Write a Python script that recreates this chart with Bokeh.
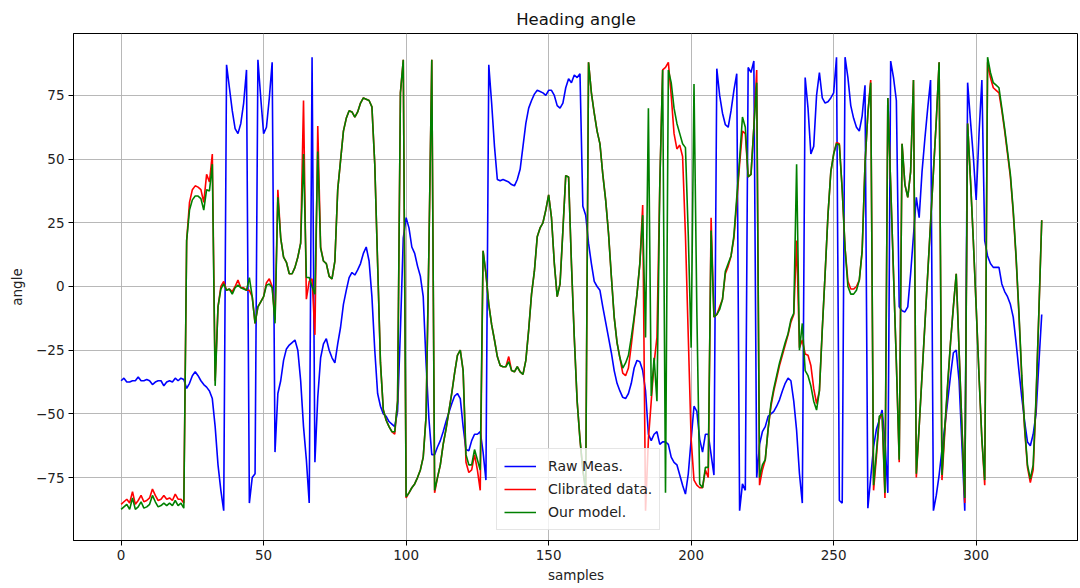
from bokeh.plotting import figure
from bokeh.models import Range1d, FixedTicker, Legend, LegendItem
from bokeh.embed import file_html
from bokeh.resources import INLINE

raw_meas = [
    -37, -36, -37.5, -37.5, -37, -37, -35.5, -37, -37, -36.5,
    -37, -38.5, -37.5, -37, -37, -39, -37.5, -37, -37.5, -36,
    -37, -36, -36.5, -40, -38, -35, -33.5, -35, -37, -38.5,
    -39.5, -41, -44, -55, -70, -80, -88, 87, 78, 69,
    62, 60, 64, 72, 85, -85, -75, -73.5, 89,
    74, 60, 62.5, 74, 88, -65, -42, -37, -29, -24.5,
    -23, -22, -21, -25, -37, -55, -68, -85, 90, -69,
    -43.5, -28, -22.5, -20.5, -25, -28, -30, -22.5, -16, -7,
    -1.5, 3.5, 5.5, 4.5, 6.5, 9, 13, 15.5, 10, -4,
    -25, -42, -47, -50, -51, -53, -54, -55, -49, -17,
    19, 27, 23, 15.5, 13, 8, 4, -4, -30, -52,
    -66, -66, -63, -60.5, -57, -53, -49.5, -46, -43, -42,
    -44, -55, -64, -64.5, -60.5, -58, -58, -57, -65, -76,
    87, 72, 55, 42, 41.5, 42, 41.5, 41, 40, 39.5,
    42, 46, 55, 64, 70, 73, 75.5, 77, 76.5, 76,
    75, 77, 77, 75, 71, 70, 72, 78, 81.5, 80,
    83, 82, 83.5, 31.5, 28, 17, 9, 2, 0, -1.5,
    -8, -14, -20, -26, -33, -38, -41, -43.5, -44, -42,
    -38, -32, -29, -29.5, -33, -41, -58, -60.5, -58, -57,
    -62, -61, -61, -62, -67, -69, -70, -74, -78, -81.5,
    -73.5, -60, -47, -49, -60, -65, -58, -58, -66, -74,
    85.5, 75, 68, 63.5, 62.5, 69, 77, 83.5, -88,
    -77.5, -80, 86, 84, 88.5, -75, -62, -57, -55, -51,
    -50, -49, -47, -44.5, -41, -38, -36, -37, -45, -56.5,
    -73.5, -85, 82, 70, 52, 55, 75, 84, 74, 72,
    72.5, 74, 76, 90, -84, -85, 90, 82, 71, 66,
    62.5, 61, 67, 79, -87, -75, -63, -56, -52.5, -48.5,
    -60.5, -81, 88.5, 82, 73, -8, -9.5, -10, -8, 5,
    20, 35, 27, 45, 58, 70, 81, -88, -82, -74,
    -64, -55, -45, -35, -26, -25, -37, -62, -88, 80,
    65, 51, 34, 60, 81, 18, 12, 9, 7.5, 7.5,
    7.5, 1, -2, -4, -7, -12, -22, -33, -43.5, -53,
    -61, -62.5, -58, -50, -30, -11,
]

calibrated = [
    -85.5, -84.5, -83.5, -85, -80.5, -85.5, -84, -82, -84.5, -84,
    -83, -79.5, -82, -84, -83.5, -82, -83.5, -83, -84, -81.5,
    -83.5, -83.5, -85, 18, 33, 38, 39.5, 39, 38, 33,
    44, 41, 52, -37, -8, 0, 2, -1.5, -1, -2,
    0, 2.5, -0.5, -0.5, -1.5, -1.5, -4, -14.5, -8,
    -6, -4, 1.5, 3, 0, -13, 38, 19, 11.5, 9.5,
    5, 5, 7.5, 11.5, 17, 73, -5, 2, 3, -19,
    63, 15.5, 10, 9, 4, 3, 10, 38, 49.5, 61,
    66, 69, 68.5, 66.5, 68.5, 72, 74, 73.5, 73, 70.5,
    48, 9, -30, -48.5, -52.5, -55, -57, -58, -45, 76,
    89, -83, -81, -79, -77.5, -75, -72, -67, -51, 15,
    89, -81, -75, -70, -62, -56, -49, -42, -34, -27,
    -25, -33, -69, -73, -72, -66, -72, -80, 14, 5,
    -7, -15, -21, -27.5, -31, -31.5, -31.5, -27.5, -33, -33.5,
    -31.5, -33.5, -34.5, -29, -17, -3, 6, 19.5, 23, 25,
    30, 36, 27, 9, -4, 1, 22, 43.5, 43, 9,
    -20, -45, -60, -72, -80, 88, 76, 68, 61, 56,
    44, 34, 21, 4, -12, -22, -28, -34, -35, -32,
    -23, -13, -3, 9, 32, -88, -60, -45, -30, -20,
    40, 85, 86, 88, 75, 60, 54, 55.5, 51, 20,
    -20, -60, -76, -78, -79, -79, -72, -75, 27, -12,
    -11, -8, -5, 5, 8, 12, 19, 33, 48,
    61, 60, 43, 44, 62.5, 85, -78, -72, -68, -56,
    -47, -41, -36, -31, -27, -23, -19, -14, -11, 18,
    -24, -21, -26.5, -27, -31, -40, -46, -41, -17, 5,
    28, 45, 52, 56.5, 56, 38, 15, 2, -1, -1,
    0, 2.5, 14, 48, 68, 81, -80, -67, -52, -50,
    -83, 74, 40, 5, -30, -69, 56, 40, 35, 45,
    81, -75, -55, -35, -15, 5, 25, 45, 65, 88,
    -76, -57, -39, -22, -8, 5, -25, -55, -85, 64,
    42, 18, -8, -35, -60, -78, 88, 82, 78, 77,
    76, 69, 61, 52, 43, 29, 11, -11, -36, -56,
    -71, -77, -72, -45, -10, 26,
]

our_model = [
    -87.5, -86.5, -85.5, -87.5, -83, -87.5, -86.5, -84.5, -87, -86.5,
    -85.5, -82, -84.5, -86.5, -86, -85, -86, -85, -86, -84,
    -86, -85, -87, 18, 30, 34, 35.5, 35.5, 34.5, 30,
    38, 37.5, 48, -39, -8, -1, 1, -1.5, -1, -3,
    -0.5, 0.5, -0.5, -1, -1.5, 3.5, -4, -14.5, -8,
    -6, -4, 0.5, 1, -0.5, -14.5, 35, 19, 11.5, 9.5,
    5, 5, 7.5, 11.5, 17, 52, 3.5, 3.5, 0, -3,
    53, 15, 10, 9, 4, 3, 10, 38, 49.5, 61,
    66, 69, 68.5, 66.5, 68.5, 72, 74, 73.5, 73, 70.5,
    48, 9, -30, -48.5, -52.5, -55, -57, -57, -45, 76,
    89, -82.5, -81, -79, -77.5, -75, -72, -67, -51, 15,
    89, -80, -75, -70, -62, -56, -49, -42, -34, -27,
    -25, -33, -66, -70, -70, -64, -68, -72, 14, 5,
    -7, -15, -21, -27.5, -31, -31.5, -31.5, -29.5, -33, -33.5,
    -31.5, -33.5, -34.5, -29, -17, -3, 6, 19.5, 23, 25,
    30, 36, 27, 9, -4, 1, 22, 43.5, 43, 9,
    -20, -45, -60, -72, -80, 88, 76, 68, 61, 56,
    44, 34, 21, 4, -12, -22, -28, -32, -30, -27,
    -20, -12, -3, 9, 28, -20, 70, -43, -28, -45,
    40, 85, -81, 85, 80, 70, 64, 60, 56, 54.5,
    20, -24, 79.5, -10, -77.5, -79, -71, -71, 22, -12,
    -11, -9, -5, 6, 9, 12, 20, 35, 50,
    66.5, 62.5, 43, 44, 62.5, 80, -75, -70, -68, -56,
    -46, -40, -35, -30, -26, -22, -18.5, -13, -10.5, 48,
    -25, -14.5, -33, -35, -39, -45, -48.5, -41, -17, 5,
    28, 45, 52, 56, 55.5, 38, 15, 0, -3, -3,
    -1.5, 2.5, 14, 48, 68, 80, -78, -65, -51, -50,
    -81, 74, 40, 5, -30, -68, 56, 40, 35, 45,
    81, -73.5, -55, -35, -15, 5, 25, 45, 65, 88,
    -74, -55, -38, -22, -8, 5, -25, -55, -83, 64,
    42, 18, -8, -35, -60, -76, 90, 84, 80, 79,
    78, 70, 62, 53, 44, 30, 12, -10, -35, -55,
    -70, -75.5, -70, -43.5, -10, 26,
]

samples = list(range(len(raw_meas)))

x_ticks = [0, 50, 100, 150, 200, 250, 300]
y_ticks = [-75, -50, -25, 0, 25, 50, 75]

FONT = "DejaVu Sans"

p = figure(width=1078, height=586, output_backend="svg", toolbar_location=None,
           x_range=Range1d(-16.7, 335.9), y_range=Range1d(-99.7, 99.3),
           min_border_left=73, min_border_right=0, min_border_top=33,
           min_border_bottom=46, title="Heading angle")

p.title.align = "center"
p.title.text_font = FONT
p.title.text_font_size = "16.5px"
p.title.text_font_style = "normal"
p.title.text_color = "#111111"
p.title.offset = 6

p.outline_line_color = "black"
p.outline_line_width = 1
p.background_fill_color = "white"
p.border_fill_color = "white"

for ax in (p.xaxis[0], p.yaxis[0]):
    ax.axis_line_color = "black"
    ax.major_tick_line_color = "black"
    ax.major_tick_out = 5
    ax.major_tick_in = 0
    ax.minor_tick_line_color = None
    ax.major_label_text_font = FONT
    ax.major_label_text_font_size = "13.5px"
    ax.major_label_text_color = "#222222"
    ax.axis_label_text_font = FONT
    ax.axis_label_text_font_size = "13.5px"
    ax.axis_label_text_font_style = "normal"
    ax.axis_label_text_color = "#222222"
    ax.major_label_standoff = 4

p.xaxis.ticker = FixedTicker(ticks=x_ticks)
p.yaxis.ticker = FixedTicker(ticks=y_ticks)
p.xaxis.axis_label = "samples"
p.yaxis.axis_label = "angle"
p.xaxis.axis_label_standoff = 4
p.yaxis.axis_label_standoff = 8

p.xgrid.ticker = FixedTicker(ticks=x_ticks)
p.ygrid.ticker = FixedTicker(ticks=y_ticks)
for g in (p.xgrid[0], p.ygrid[0]):
    g.grid_line_color = "#b0b0b0"
    g.grid_line_width = 0.9

r_raw = p.line(samples, raw_meas, line_color="#0000ff", line_width=1.6)
r_cal = p.line(samples, calibrated, line_color="#ff0000", line_width=1.6)
r_mod = p.line(samples, our_model, line_color="#008000", line_width=1.6)

legend = Legend(items=[
    LegendItem(label="Raw Meas.", renderers=[r_raw]),
    LegendItem(label="Clibrated data.", renderers=[r_cal]),
    LegendItem(label="Our model.", renderers=[r_mod]),
], location=(423, 10))
legend.label_text_font = FONT
legend.label_text_font_size = "14px"
legend.label_text_color = "#222222"
legend.glyph_width = 32
legend.glyph_height = 20
legend.label_height = 20
legend.label_standoff = 12
legend.spacing = 3
legend.padding = 7
legend.margin = 0
legend.border_line_color = "#cccccc"
legend.border_line_width = 1
legend.background_fill_color = "white"
legend.background_fill_alpha = 0.8
p.add_layout(legend, "center")

open("out.html", "w").write(file_html(p, INLINE))
